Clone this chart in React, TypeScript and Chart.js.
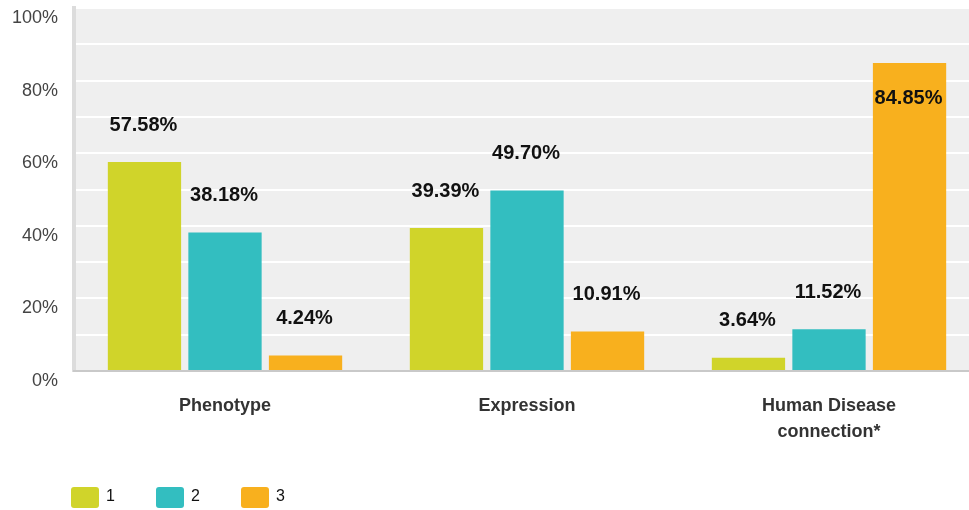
import React, { useEffect, useRef } from "react";
import { Chart, registerables } from "chart.js";

Chart.register(...registerables);

const categories: (string | string[])[] = ["Phenotype", "Expression", ["Human Disease", "connection*"]];
const seriesNames = ["1", "2", "3"];
const series1 = [57.58, 39.39, 3.64];
const series2 = [38.18, 49.7, 11.52];
const series3 = [4.24, 10.91, 84.85];
const colors = ["#d0d42a", "#33bec0", "#f8b01e"];
const yTickLabels = ["0%", "20%", "40%", "60%", "80%", "100%"];

const FONT = "'Liberation Sans', Arial, Helvetica, sans-serif";

const bgPlugin = {
  id: "plotBg",
  beforeDraw(chart: any) {
    const { ctx, chartArea } = chart;
    ctx.save();
    ctx.fillStyle = "#efefef";
    ctx.fillRect(chartArea.left, chartArea.top, chartArea.right - chartArea.left, chartArea.bottom - chartArea.top);
    ctx.restore();
  },
};

const valueLabelPlugin = {
  id: "valueLabels",
  afterDatasetsDraw(chart: any) {
    const { ctx } = chart;
    ctx.save();
    ctx.font = `bold 20px ${FONT}`;
    ctx.fillStyle = "#111";
    ctx.textAlign = "center";
    ctx.textBaseline = "middle";
    chart.data.datasets.forEach((ds: any, di: number) => {
      const meta = chart.getDatasetMeta(di);
      meta.data.forEach((bar: any, i: number) => {
        const v = ds.data[i];
        const y = v > 80 ? bar.y + 35 : bar.y - 37;
        ctx.fillText(v.toFixed(2) + "%", bar.x - 1, y);
      });
    });
    ctx.restore();
  },
};

const legendPlugin = {
  id: "customLegend",
  afterDraw(chart: any) {
    const { ctx } = chart;
    ctx.save();
    ctx.font = `16px ${FONT}`;
    ctx.textBaseline = "middle";
    ctx.textAlign = "left";
    chart.data.datasets.forEach((ds: any, i: number) => {
      const x = 71 + i * 85;
      const y = 487;
      ctx.fillStyle = ds.backgroundColor;
      ctx.beginPath();
      (ctx as any).roundRect(x, y, 28, 21, 3);
      ctx.fill();
      ctx.fillStyle = "#111";
      ctx.fillText(ds.label, x + 35, y + 10);
    });
    ctx.restore();
  },
};

export default function App() {
  const canvasRef = useRef<HTMLCanvasElement | null>(null);

  useEffect(() => {
    document.body.style.margin = "0";
    const canvas = canvasRef.current;
    if (!canvas) return;
    const chart = new Chart(canvas, {
      type: "bar",
      data: {
        labels: categories as any,
        datasets: [series1, series2, series3].map((d, i) => ({
          label: seriesNames[i],
          data: d,
          backgroundColor: colors[i],
          borderWidth: 0,
          categoryPercentage: 0.8,
          barPercentage: 0.91,
        })),
      },
      options: {
        animation: false,
        responsive: false,
        maintainAspectRatio: false,
        devicePixelRatio: 1,
        layout: { padding: { top: 8, right: 4, bottom: 0, left: 0 } },
        plugins: {
          legend: { display: false },
          tooltip: { enabled: false },
        },
        scales: {
          x: {
            grid: { display: false, drawTicks: false },
            border: { display: true, color: "#c9c9c9", width: 2, z: 1 },
            ticks: {
              padding: 22,
              color: "#333",
              font: { family: FONT, size: 18, weight: "bold", lineHeight: "26px" } as any,
            },
            afterFit(scale: any) {
              scale.height = 139;
              scale.paddingLeft = 0;
              scale.paddingRight = 0;
            },
          },
          y: {
            min: 0,
            max: 100,
            grid: { color: "#ffffff", lineWidth: 2, drawTicks: false },
            border: { display: true, color: "#dcdcdc", width: 4 },
            ticks: {
              stepSize: 10,
              padding: 16,
              labelOffset: 10,
              color: "#444",
              font: { family: FONT, size: 18 },
              callback: (v: any) => (Number(v) % 20 === 0 ? yTickLabels[Number(v) / 20] : ""),
            },
            afterFit(scale: any) {
              scale.width = 74;
              scale.paddingTop = 0;
              scale.paddingBottom = 0;
            },
          },
        },
      },
      plugins: [bgPlugin, valueLabelPlugin, legendPlugin],
    });
    return () => chart.destroy();
  }, []);

  return (
    <div style={{ width: 969, height: 510, overflow: "hidden", position: "relative", background: "#fff" }}>
      <canvas ref={canvasRef} width={984} height={510} style={{ display: "block", width: 984, height: 510 }} />
    </div>
  );
}
